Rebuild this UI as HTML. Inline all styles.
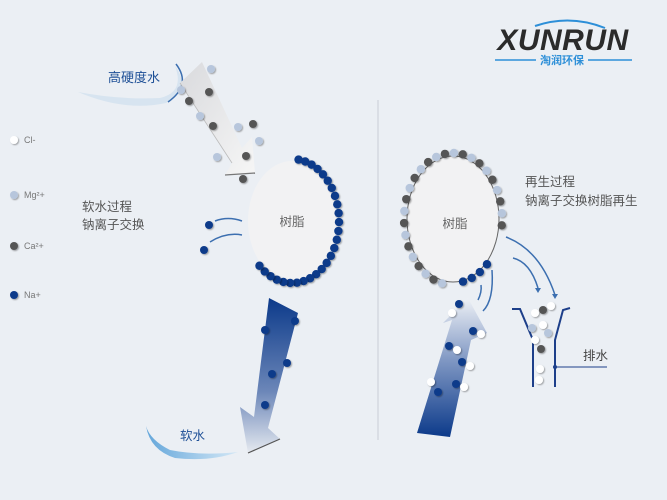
<!DOCTYPE html>
<html><head><meta charset="utf-8"><style>
html,body{margin:0;padding:0;background:#ebeff4;}
svg{display:block;font-family:"Liberation Sans","Noto Sans CJK SC",sans-serif;}
</style></head><body>
<svg id="s" width="667" height="500" viewBox="0 0 667 500" xmlns="http://www.w3.org/2000/svg">
<defs>
<linearGradient id="gA" x1="0" y1="0" x2="1" y2="1"><stop offset="0" stop-color="#d9dadd"/><stop offset="1" stop-color="#f6f6f6"/></linearGradient>
<linearGradient id="gB" x1="0" y1="0" x2="0" y2="1"><stop offset="0" stop-color="#0c3a8a"/><stop offset="0.6" stop-color="#6b86b8"/><stop offset="1" stop-color="#e6eaf0"/></linearGradient>
<linearGradient id="gC" x1="0" y1="1" x2="0" y2="0"><stop offset="0" stop-color="#0c3a8a"/><stop offset="0.55" stop-color="#7f97c3"/><stop offset="1" stop-color="#eef1f6"/></linearGradient>
<linearGradient id="gW" x1="0" y1="0" x2="1" y2="0"><stop offset="0" stop-color="#4d9ad6"/><stop offset="1" stop-color="#cfe6f6"/></linearGradient>
<filter id="sh" x="-50%" y="-50%" width="200%" height="200%"><feDropShadow dx="1" dy="1" stdDeviation="0.8" flood-color="#000" flood-opacity="0.35"/></filter>
</defs>
<rect width="667" height="500" fill="#ebeff4"/>
<line x1="378" y1="100" x2="378" y2="440" stroke="#c9ced6" stroke-width="1"/>

<!-- logo -->
<path d="M535 26 Q570 14 605 28" stroke="#2d8fd8" stroke-width="2" fill="none"/>
<text x="563" y="50" text-anchor="middle" font-size="30" font-weight="bold" font-style="italic" fill="#2b2b2b" letter-spacing="0.5">XUNRUN</text>
<line x1="495" y1="60" x2="536" y2="60" stroke="#2d8fd8" stroke-width="1.5"/>
<line x1="588" y1="60" x2="632" y2="60" stroke="#2d8fd8" stroke-width="1.5"/>
<text x="562" y="64" text-anchor="middle" font-size="11" font-weight="bold" fill="#2d8fd8">淘润环保</text>

<!-- hard water splash -->
<path d="M78 92 Q120 100 160 98 Q185 92 175 66 Q192 88 166 103 Q125 112 78 92Z" fill="#cfe0ee" opacity="0.7"/>
<path d="M176 64 Q192 85 168 102" stroke="#3c6fb0" stroke-width="1.5" fill="none"/>
<text x="108" y="82" font-size="13" fill="#1d4f96">高硬度水</text>

<!-- top arrow -->
<polygon points="180,83 202,62 222,105 242,148 252,137 255,173 225,175 232,163" fill="url(#gA)"/>
<line x1="225" y1="175" x2="255" y2="173" stroke="#777" stroke-width="1.2"/>
<line x1="180" y1="83" x2="232" y2="163" stroke="#bbb" stroke-width="0.8"/>

<!-- legend -->
<g font-size="9" fill="#777">
<circle cx="14" cy="140" r="4" fill="#fff" filter="url(#sh)"/><text x="24" y="143">Cl-</text>
<circle cx="14" cy="195" r="4" fill="#b7c6dc" filter="url(#sh)"/><text x="24" y="198">Mg²+</text>
<circle cx="14" cy="246" r="4" fill="#555" filter="url(#sh)"/><text x="24" y="249">Ca²+</text>
<circle cx="14" cy="295" r="4" fill="#0c3a8a" filter="url(#sh)"/><text x="24" y="298">Na+</text>
</g>
<text x="82" y="211" font-size="12.5" fill="#555">软水过程</text>
<text x="82" y="229" font-size="12.5" fill="#555">钠离子交换</text>

<!-- left resin -->
<ellipse cx="292" cy="221" rx="44" ry="60" fill="#f2f2f3"/>
<text x="292" y="226" text-anchor="middle" font-size="12.5" fill="#666">树脂</text>
<g id="ldots"></g>
<path d="M215 221 Q228 216 242 221" stroke="#3c6fb0" stroke-width="1.5" fill="none"/>
<path d="M210 242 Q226 232 242 235" stroke="#3c6fb0" stroke-width="1.5" fill="none"/>
<circle cx="209" cy="225" r="4" fill="#0c3a8a" filter="url(#sh)"/>
<circle cx="204" cy="250" r="4" fill="#0c3a8a" filter="url(#sh)"/>

<!-- bottom-left arrow -->
<polygon points="269,298 298,313 268,428 280,439 248,453 240,407 254,417" fill="url(#gB)"/>
<line x1="248" y1="453" x2="280" y2="439" stroke="#555" stroke-width="1.2"/>
<g fill="#0c3a8a" filter="url(#sh)">
<circle cx="265" cy="330" r="4"/><circle cx="295" cy="321" r="4"/><circle cx="287" cy="363" r="4"/><circle cx="272" cy="374" r="4"/><circle cx="265" cy="405" r="4"/>
</g>
<path d="M146 426 Q150 450 175 458 Q210 462 238 452 Q200 456 170 450 Q150 440 146 426Z" fill="url(#gW)" opacity="0.85"/>
<text x="180" y="440" font-size="12.5" fill="#1d4f96">软水</text>

<!-- right resin -->
<ellipse cx="453" cy="219" rx="46" ry="63" fill="#f2f2f3" stroke="#666" stroke-width="1"/>
<text x="455" y="228" text-anchor="middle" font-size="12.5" fill="#666">树脂</text>
<g id="rdots"></g>
<text x="525" y="186" font-size="12.5" fill="#555">再生过程</text>
<text x="525" y="205" font-size="12.5" fill="#555">钠离子交换树脂再生</text>
<path d="M506 237 Q540 250 555 295" stroke="#3c6fb0" stroke-width="1.5" fill="none"/>
<path d="M513 258 Q530 262 538 288" stroke="#3c6fb0" stroke-width="1.5" fill="none"/>
<polygon points="552,294 558,294 555,299" fill="#3c6fb0"/><polygon points="535,288 541,288 538,293" fill="#3c6fb0"/>
<path d="M478 300 Q482 292 481 285" stroke="#3c6fb0" stroke-width="1.5" fill="none"/>
<path d="M483 311 Q494 300 492 270" stroke="#3c6fb0" stroke-width="1.5" fill="none"/>

<!-- right arrow -->
<polygon points="417,433 450,437 471,340 487,333 468,298 443,323 452,320" fill="url(#gC)"/>
<g filter="url(#sh)">
<circle cx="459" cy="304" r="4" fill="#0c3a8a"/><circle cx="452" cy="313" r="4" fill="#fff"/>
<circle cx="473" cy="331" r="4" fill="#0c3a8a"/><circle cx="481" cy="334" r="4" fill="#fff"/>
<circle cx="449" cy="346" r="4" fill="#0c3a8a"/><circle cx="457" cy="350" r="4" fill="#fff"/>
<circle cx="462" cy="362" r="4" fill="#0c3a8a"/><circle cx="470" cy="366" r="4" fill="#fff"/>
<circle cx="431" cy="382" r="4" fill="#fff"/><circle cx="438" cy="392" r="4" fill="#0c3a8a"/>
<circle cx="456" cy="384" r="4" fill="#0c3a8a"/><circle cx="464" cy="387" r="4" fill="#fff"/>
</g>

<!-- funnel -->
<path d="M512 309 L520 309 L533 340 L533 387" stroke="#1d3f8a" stroke-width="2" fill="none"/>
<path d="M570 308 L563 310 L555 340 L555 387" stroke="#1d3f8a" stroke-width="2" fill="none"/>
<line x1="555" y1="367" x2="607" y2="367" stroke="#1d3f8a" stroke-width="1"/>
<circle cx="555" cy="367" r="2" fill="#1d3f8a"/>
<text x="583" y="360" font-size="12.5" fill="#444">排水</text>
<g filter="url(#sh)">
<circle cx="551" cy="306" r="4" fill="#fff"/><circle cx="543" cy="310" r="4" fill="#555"/><circle cx="535" cy="313" r="4" fill="#fff"/>
<circle cx="543" cy="325" r="4" fill="#fff"/><circle cx="532" cy="328" r="4" fill="#b7c6dc"/>
<circle cx="548" cy="333" r="4" fill="#b7c6dc"/><circle cx="535" cy="340" r="4" fill="#fff"/>
<circle cx="541" cy="349" r="4" fill="#555"/><circle cx="540" cy="369" r="4" fill="#fff"/><circle cx="539" cy="380" r="4" fill="#fff"/>
</g>

<!-- top arrow dots -->
<g filter="url(#sh)">
<circle cx="211" cy="69" r="4" fill="#b7c6dc"/><circle cx="181" cy="90" r="4" fill="#b7c6dc"/>
<circle cx="189" cy="101" r="4" fill="#555"/><circle cx="209" cy="92" r="4" fill="#555"/>
<circle cx="200" cy="116" r="4" fill="#b7c6dc"/><circle cx="213" cy="126" r="4" fill="#555"/>
<circle cx="238" cy="127" r="4" fill="#b7c6dc"/><circle cx="253" cy="124" r="4" fill="#555"/>
<circle cx="259" cy="141" r="4" fill="#b7c6dc"/><circle cx="217" cy="157" r="4" fill="#b7c6dc"/>
<circle cx="246" cy="156" r="4" fill="#555"/><circle cx="243" cy="179" r="4" fill="#555"/>
</g>
</svg>
<script>
var NS="http://www.w3.org/2000/svg";
function dot(g,x,y,c){var e=document.createElementNS(NS,"circle");e.setAttribute("cx",x);e.setAttribute("cy",y);e.setAttribute("r",4.2);e.setAttribute("fill",c);e.setAttribute("filter","url(#sh)");g.appendChild(e);}
var L=document.getElementById("ldots");
for(var a=-82;a<=142;a+=8.3){var r=a*Math.PI/180;dot(L,292+47*Math.cos(r),221+62*Math.sin(r),"#0c3a8a");}
var R=document.getElementById("rdots");var i=0;
for(var a=103;a<=372;a+=10.5){var r=a*Math.PI/180;dot(R,453+49*Math.cos(r),219+66*Math.sin(r),(i++%2)?"#555":"#b7c6dc");}
for(var a=45;a<=80;a+=11){var r=a*Math.PI/180;dot(R,453+48*Math.cos(r),219+64*Math.sin(r),"#0c3a8a");}
</script>
</body></html>
